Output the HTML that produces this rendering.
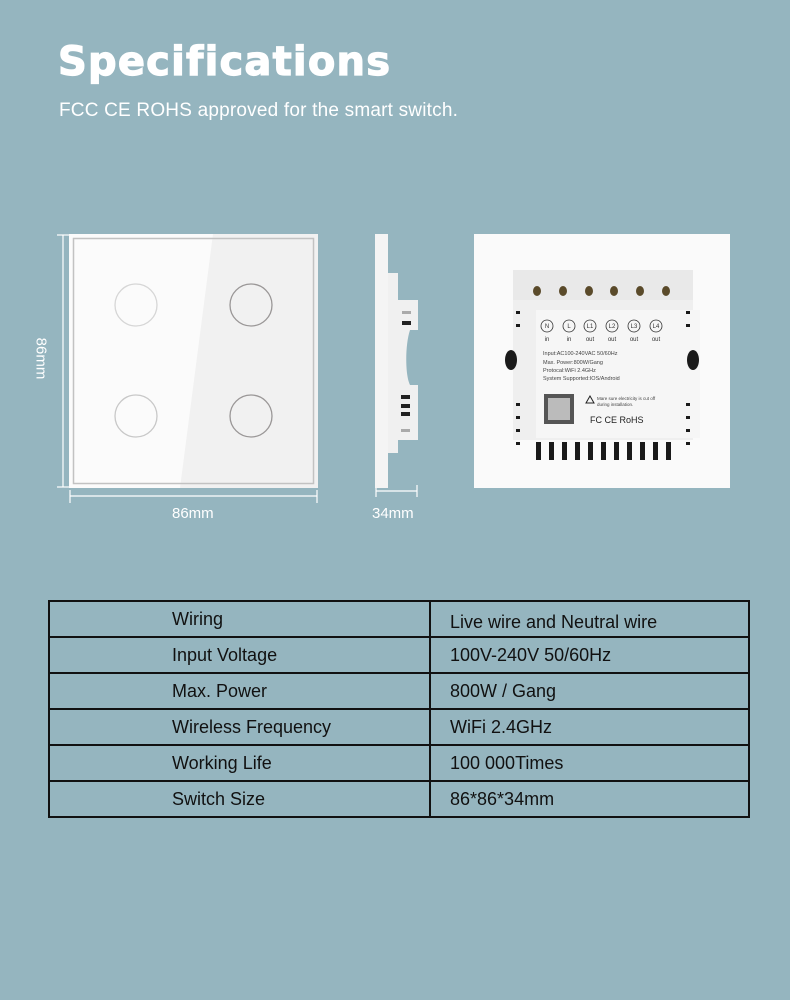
<!DOCTYPE html>
<html><head><meta charset="utf-8"><style>
*{margin:0;padding:0;box-sizing:border-box}
body{width:790px;height:1000px;background:#95b5bf;position:relative;overflow:hidden;font-family:"Liberation Sans",sans-serif}
.a{position:absolute}
h1{position:absolute;left:58px;top:42px;font-family:"DejaVu Sans","Liberation Sans",sans-serif;font-weight:900;font-size:40px;color:#fff;letter-spacing:1.2px;line-height:1;-webkit-text-stroke:1.2px #fff}
.sub{left:59px;top:100px;color:#fff;font-size:19px;letter-spacing:0.2px}
table{position:absolute;left:48px;top:600px;width:702px;border-collapse:collapse;font-family:"Liberation Sans Narrow","Liberation Sans",sans-serif;font-size:18px;color:#111}
td{border:2px solid #111;height:36px;vertical-align:middle}
td.k{width:381px;padding-left:122px}
td.v{padding-left:19px}
.dim{color:#fff;font-size:15px}
</style></head><body>
<h1>Specifications</h1>
<div class="a sub">FCC CE ROHS approved for the smart switch.</div>

<svg class="a" style="left:0;top:0" width="790" height="540">
<g stroke="#fff" stroke-width="1.2" fill="none">
<line x1="63" y1="235" x2="63" y2="487"/><line x1="57" y1="235" x2="69" y2="235"/><line x1="57" y1="487" x2="69" y2="487"/>
<line x1="70" y1="496" x2="317" y2="496"/><line x1="70" y1="490" x2="70" y2="503"/><line x1="317" y1="490" x2="317" y2="503"/>
<line x1="376" y1="491" x2="417" y2="491"/><line x1="376" y1="485" x2="376" y2="497"/><line x1="417" y1="485" x2="417" y2="497"/>
</g>
<rect x="69" y="234" width="249" height="254" fill="#fbfbfb"/>
<polygon points="213,234 318,234 318,488 180,488" fill="#f1f1f1"/>
<rect x="73.5" y="238.5" width="240" height="245" fill="none" stroke="#c2c2c2" stroke-width="1.5"/>
<g fill="none" stroke-width="1.3">
<circle cx="136" cy="305" r="21" stroke="#d6d6d6"/><circle cx="251" cy="305" r="21" stroke="#9a9797"/>
<circle cx="136" cy="416" r="21" stroke="#c8c8c8"/><circle cx="251" cy="416" r="21" stroke="#9a9797"/>
</g>
<rect x="375" y="234" width="13" height="254" fill="#f4f4f4"/>
<path d="M388 273 H398 V300 H418 V330 H410 C405 345 405 375 410 385 H418 V440 H398 V453 H388 Z" fill="#f0f0f0"/>
<g fill="#222"><rect x="402" y="321" width="9" height="4"/><rect x="401" y="395" width="9" height="4"/><rect x="401" y="404" width="9" height="4"/><rect x="401" y="412" width="9" height="4"/></g>
<g fill="#aaa"><rect x="402" y="311" width="9" height="3"/><rect x="401" y="429" width="9" height="3"/></g>
<rect x="474" y="234" width="256" height="254" fill="#fafafa"/>
<rect x="513" y="270" width="180" height="170" fill="#efefef"/>
<rect x="513" y="270" width="180" height="30" fill="#e9e9e9"/>
<g fill="#5a4a2a">
<ellipse cx="537" cy="291" rx="4" ry="5"/><ellipse cx="563" cy="291" rx="4" ry="5"/><ellipse cx="589" cy="291" rx="4" ry="5"/><ellipse cx="614" cy="291" rx="4" ry="5"/><ellipse cx="640" cy="291" rx="4" ry="5"/><ellipse cx="666" cy="291" rx="4" ry="5"/>
</g>
<rect x="536" y="310" width="164" height="128" fill="#f6f6f6"/>
<g fill="none" stroke="#333" stroke-width="0.8">
<circle cx="547" cy="326" r="6"/><circle cx="569" cy="326" r="6"/><circle cx="590" cy="326" r="6"/><circle cx="612" cy="326" r="6"/><circle cx="634" cy="326" r="6"/><circle cx="656" cy="326" r="6"/>
</g>
<g text-anchor="middle" font-size="6" fill="#333" font-family="Liberation Sans">
<text x="547" y="328">N</text><text x="569" y="328">L</text><text x="590" y="328">L1</text><text x="612" y="328">L2</text><text x="634" y="328">L3</text><text x="656" y="328">L4</text>
<text x="547" y="341">in</text><text x="569" y="341">in</text><text x="590" y="341">out</text><text x="612" y="341">out</text><text x="634" y="341">out</text><text x="656" y="341">out</text>
</g>
<g font-size="5.5" fill="#444" font-family="Liberation Sans">
<text x="543" y="355">Input:AC100-240VAC 50/60Hz</text>
<text x="543" y="364">Max. Power:800W/Gang</text>
<text x="543" y="372">Protocal:WiFi 2.4GHz</text>
<text x="543" y="380">System Supported:IOS/Android</text>
<text x="597" y="400" font-size="4.5">Mare sure electricity is cut off</text>
<text x="597" y="406" font-size="4.5">during installation.</text>
<text x="590" y="423" font-size="9" fill="#222">FC  CE  RoHS</text>
</g>
<rect x="544" y="394" width="30" height="30" fill="#555"/>
<rect x="548" y="398" width="22" height="22" fill="#bbb"/>
<polygon points="590,396 586,403 594,403" fill="none" stroke="#222"/>
<g fill="#1a1a1a">
<rect x="536" y="442" width="5" height="18"/><rect x="549" y="442" width="5" height="18"/><rect x="562" y="442" width="5" height="18"/><rect x="575" y="442" width="5" height="18"/><rect x="588" y="442" width="5" height="18"/><rect x="601" y="442" width="5" height="18"/><rect x="614" y="442" width="5" height="18"/><rect x="627" y="442" width="5" height="18"/><rect x="640" y="442" width="5" height="18"/><rect x="653" y="442" width="5" height="18"/><rect x="666" y="442" width="5" height="18"/>
<ellipse cx="511" cy="360" rx="6" ry="10"/><ellipse cx="693" cy="360" rx="6" ry="10"/>
<rect x="516" y="311" width="4" height="3"/><rect x="516" y="324" width="4" height="3"/><rect x="516" y="403" width="4" height="3"/><rect x="516" y="416" width="4" height="3"/><rect x="516" y="429" width="4" height="3"/><rect x="516" y="442" width="4" height="3"/>
<rect x="686" y="311" width="4" height="3"/><rect x="686" y="324" width="4" height="3"/><rect x="686" y="403" width="4" height="3"/><rect x="686" y="416" width="4" height="3"/><rect x="686" y="429" width="4" height="3"/><rect x="686" y="442" width="4" height="3"/>
</g>
</svg>
<div class="a dim" style="left:172px;top:505px">86mm</div>
<div class="a dim" style="left:372px;top:505px">34mm</div>
<div class="a dim" style="left:20px;top:350px;transform:rotate(90deg);transform-origin:center">86mm</div>

<table>
<tr><td class="k">Wiring</td><td class="v" style="padding-top:6px">Live wire and Neutral wire</td></tr>
<tr><td class="k">Input Voltage</td><td class="v">100V-240V 50/60Hz</td></tr>
<tr><td class="k" style="height:35px">Max. Power</td><td class="v">800W / Gang</td></tr>
<tr><td class="k">Wireless Frequency</td><td class="v">WiFi 2.4GHz</td></tr>
<tr><td class="k" style="height:35px">Working Life</td><td class="v">100 000Times</td></tr>
<tr><td class="k">Switch Size</td><td class="v">86*86*34mm</td></tr>
</table>
</body></html>
